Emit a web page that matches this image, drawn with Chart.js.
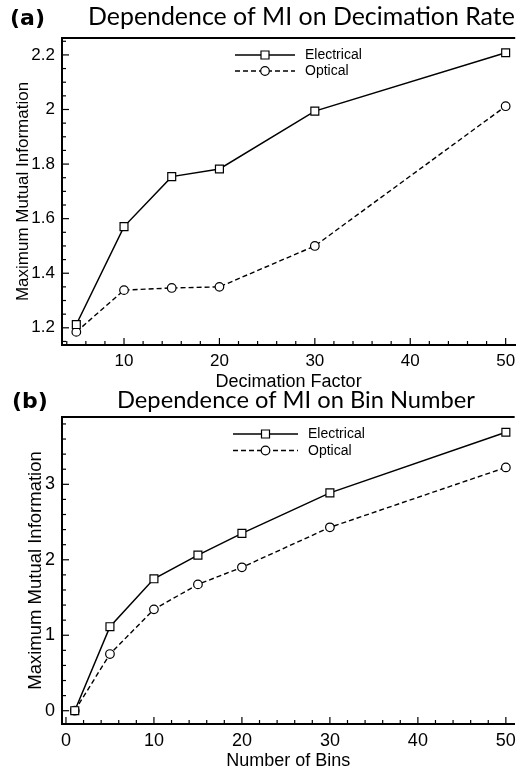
<!DOCTYPE html>
<html lang="en">
<head>
<meta charset="UTF-8">
<title>Dependence of MI</title>
<script src="https://cdn.jsdelivr.net/npm/chart.js"></script>
<style>
  body { margin: 0; background: #fff; }
  #wrap { position: relative; width: 522px; height: 773px; }
  canvas { position: absolute; left: 0; }
</style>
</head>
<body>
<div id="wrap">
  <canvas id="chartA" width="522" height="392" style="top:0"></canvas>
  <canvas id="chartB" width="522" height="388" style="top:385px"></canvas>
</div>
<script>
// (a) MI vs decimation factor
const decimation = [5, 10, 15, 20, 30, 50];
const elecDecim = [1.212, 1.571, 1.754, 1.782, 1.994, 2.208];
const optDecim = [1.185, 1.338, 1.346, 1.350, 1.500, 2.012];
const decimXTicks = [10, 20, 30, 40, 50];
const decimYTicks = [1.2, 1.4, 1.6, 1.8, 2, 2.2];

// (b) MI vs number of bins
const bins = [1, 5, 10, 15, 20, 30, 50];
const elecBins = [0, 1.113, 1.748, 2.062, 2.35, 2.887, 3.69];
const optBins = [0, 0.751, 1.343, 1.674, 1.9, 2.43, 3.224];
const binsXTicks = [0, 10, 20, 30, 40, 50];
const binsYTicks = [0, 1, 2, 3];

const seriesNames = ['Electrical', 'Optical'];

const SANS = "'Liberation Sans', Arial, sans-serif";
const TITLE_FONT = "Lato, 'Open Sans', sans-serif";
const PANEL_FONT = "'DejaVu Sans', sans-serif";

function toPoints(xs, ys) {
  return xs.map((x, i) => ({ x: x, y: ys[i] }));
}

function makeDatasets(xs, elec, opt) {
  return [{
    label: seriesNames[0],
    data: toPoints(xs, elec),
    borderColor: '#000', borderWidth: 1.5,
    pointStyle: 'rect', pointRadius: 5.6,
    pointBackgroundColor: '#fff', pointBorderColor: '#000', pointBorderWidth: 1.2
  }, {
    label: seriesNames[1],
    data: toPoints(xs, opt),
    borderColor: '#000', borderWidth: 1.4, borderDash: [5, 3],
    pointStyle: 'circle', pointRadius: 4.3,
    pointBackgroundColor: '#fff', pointBorderColor: '#000', pointBorderWidth: 1.2
  }];
}

// ticks pointing into the plot, top frame line, legend and panel title
const decorPlugin = {
  id: 'decor',
  afterDraw(chart, args, o) {
    const { ctx, chartArea: a, scales: { x, y } } = chart;
    ctx.save();
    ctx.strokeStyle = '#000';
    ctx.lineWidth = 1.2;

    for (let i = 0; ; i++) {
      const v = o.xMinorStart + i * o.xMinor;
      if (v > x.max + 1e-9) break;
      const px = x.getPixelForValue(v);
      const len = o.xTicks.some(t => Math.abs(t - v) < 1e-6) ? 7 : 4;
      ctx.beginPath(); ctx.moveTo(px, a.bottom); ctx.lineTo(px, a.bottom - len); ctx.stroke();
    }
    for (let i = 0; ; i++) {
      const v = o.yMinorStart + i * o.yMinor;
      if (v > y.max + 1e-9) break;
      const py = y.getPixelForValue(v);
      const len = o.yTicks.some(t => Math.abs(t - v) < 1e-6) ? 7 : 4;
      ctx.beginPath(); ctx.moveTo(a.left, py); ctx.lineTo(a.left + len, py); ctx.stroke();
    }

    // top frame
    ctx.lineWidth = 2;
    ctx.beginPath(); ctx.moveTo(a.left, a.top); ctx.lineTo(a.right, a.top); ctx.stroke();

    // legend: line sample with marker in the middle
    chart.data.datasets.forEach((ds, i) => {
      const ly = o.legendY + i * o.legendGap;
      const x1 = o.legendX, x2 = o.legendX + o.legendLen, xm = (x1 + x2) / 2;
      ctx.lineWidth = ds.borderWidth;
      ctx.setLineDash(ds.borderDash || []);
      ctx.beginPath(); ctx.moveTo(x1, ly); ctx.lineTo(x2, ly); ctx.stroke();
      ctx.setLineDash([]);
      ctx.lineWidth = 1.2;
      ctx.fillStyle = '#fff';
      ctx.beginPath();
      if (ds.pointStyle === 'rect') ctx.rect(xm - 4, ly - 4, 8, 8);
      else ctx.arc(xm, ly, 4.3, 0, Math.PI * 2);
      ctx.fill(); ctx.stroke();
      ctx.fillStyle = '#000';
      ctx.font = '14px ' + SANS;
      ctx.textAlign = 'left';
      ctx.textBaseline = 'middle';
      ctx.fillText(ds.label, x2 + 10, ly + 0.5);
    });

    // panel label and title
    ctx.fillStyle = '#000';
    ctx.textBaseline = 'alphabetic';
    ctx.textAlign = 'left';
    ctx.font = 'bold 22px ' + PANEL_FONT;
    ctx.fillText(o.panel, o.panelX, o.baseline);
    ctx.font = '25px ' + TITLE_FONT;
    const size = 25 * o.titleWidth / ctx.measureText(o.title).width;
    ctx.font = size.toFixed(2) + 'px ' + TITLE_FONT;
    ctx.fillText(o.title, o.titleX, o.baseline);
    ctx.restore();
  }
};

function makeChart(id, cfg) {
  return new Chart(document.getElementById(id), {
    type: 'line',
    data: { datasets: makeDatasets(cfg.xs, cfg.elec, cfg.opt) },
    plugins: [decorPlugin],
    options: {
      responsive: false,
      animation: false,
      layout: { padding: { top: cfg.top, left: 0, right: 0, bottom: 0 } },
      plugins: {
        legend: { display: false },
        tooltip: { enabled: false },
        decor: cfg.decor
      },
      scales: {
        x: {
          type: 'linear', min: cfg.xMin, max: cfg.xMax,
          grid: { display: false, drawTicks: false, tickLength: 0 },
          border: { display: true, color: '#000', width: 2 },
          afterBuildTicks: s => { s.ticks = cfg.xTicks.map(v => ({ value: v })); },
          afterFit: s => { s.height = cfg.xHeight; },
          ticks: {
            color: '#000', font: { family: SANS, size: cfg.tickSize }, padding: 6,
            maxRotation: 0, autoSkip: false, callback: v => String(v)
          },
          title: {
            display: true, text: cfg.xTitle, color: '#000',
            font: { family: SANS, size: 18, lineHeight: 1 },
            padding: { top: 0, bottom: cfg.xTitlePad }
          }
        },
        y: {
          type: 'linear', min: cfg.yMin, max: cfg.yMax,
          grid: { display: false, drawTicks: false, tickLength: 0 },
          border: { display: true, color: '#000', width: 2 },
          afterBuildTicks: s => { s.ticks = cfg.yTicks.map(v => ({ value: v })); },
          afterFit: s => { s.width = 62; },
          ticks: {
            color: '#000', font: { family: SANS, size: cfg.tickSize }, padding: 7,
            autoSkip: false, callback: v => String(v)
          },
          title: {
            display: true, text: 'Maximum Mutual Information', color: '#000',
            font: { family: SANS, size: cfg.yTitleSize, lineHeight: 1 },
            padding: { top: cfg.yTitlePad, bottom: 0 }
          }
        }
      }
    }
  });
}

makeChart('chartA', {
  xs: decimation, elec: elecDecim, opt: optDecim,
  xMin: 3.5, xMax: 51, yMin: 1.137, yMax: 2.262,
  xTicks: decimXTicks, yTicks: decimYTicks,
  top: 38, xHeight: 47, tickSize: 17,
  xTitle: 'Decimation Factor', xTitlePad: 0.5,
  yTitleSize: 17, yTitlePad: 14.5,
  decor: {
    xTicks: decimXTicks, yTicks: decimYTicks,
    xMinorStart: 4, xMinor: 2, yMinorStart: 1.15, yMinor: 0.05,
    legendX: 235, legendLen: 60, legendY: 55, legendGap: 16,
    panel: '(a)', panelX: 10, baseline: 25,
    title: 'Dependence of MI on Decimation Rate', titleX: 88, titleWidth: 427
  }
});

makeChart('chartB', {
  xs: bins, elec: elecBins, opt: optBins,
  xMin: -0.45, xMax: 51, yMin: -0.176, yMax: 3.892,
  xTicks: binsXTicks, yTicks: binsYTicks,
  top: 32, xHeight: 49, tickSize: 18,
  xTitle: 'Number of Bins', xTitlePad: 3,
  yTitleSize: 18.5, yTitlePad: 27,
  decor: {
    xTicks: binsXTicks, yTicks: binsYTicks,
    xMinorStart: 0, xMinor: 2, yMinorStart: 0, yMinor: 0.2,
    legendX: 233, legendLen: 65, legendY: 49, legendGap: 16.5,
    panel: '(b)', panelX: 12, baseline: 23,
    title: 'Dependence of MI on Bin Number', titleX: 117, titleWidth: 358
  }
});
</script>
</body>
</html>
